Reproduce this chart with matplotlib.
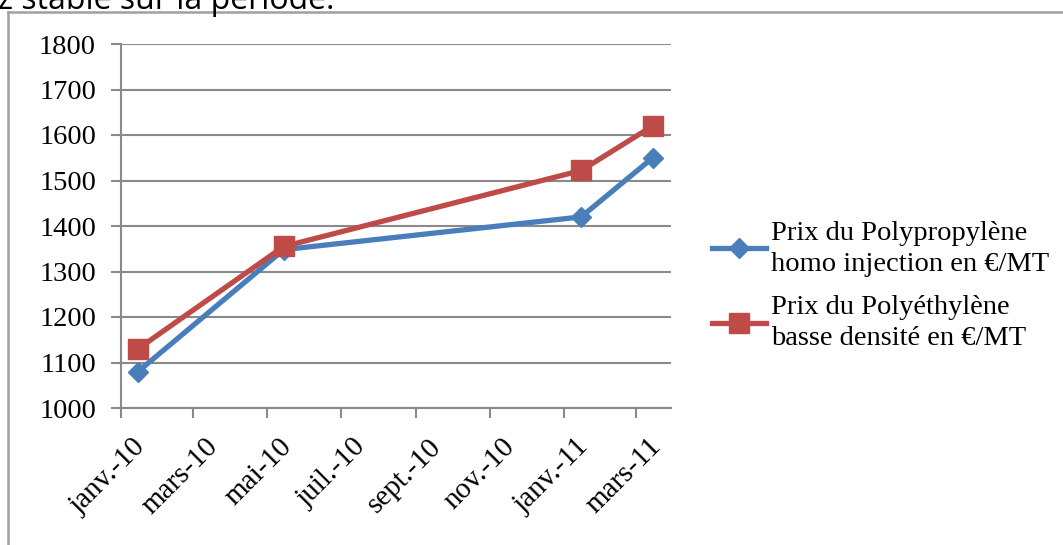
import datetime as dt
import matplotlib
matplotlib.use("Agg")
import matplotlib.pyplot as plt
import matplotlib.dates as mdates
import matplotlib.transforms as mtransforms
from matplotlib.lines import Line2D

# Prix relevés (en €/MT)
dates = [dt.date(2010, 1, 15), dt.date(2010, 5, 15), dt.date(2011, 1, 15), dt.date(2011, 3, 15)]
prix_pp = [1080, 1348, 1420, 1550]
prix_pe = [1130, 1355, 1522, 1620]

label_pp = "Prix du Polypropylène\nhomo injection en €/MT"
label_pe = "Prix du Polyéthylène\nbasse densité en €/MT"

tick_dates = [dt.date(2010, 1, 1), dt.date(2010, 3, 1), dt.date(2010, 5, 1), dt.date(2010, 7, 1),
              dt.date(2010, 9, 1), dt.date(2010, 11, 1), dt.date(2011, 1, 1), dt.date(2011, 3, 1)]
tick_labels = ["janv.-10", "mars-10", "mai-10", "juil.-10", "sept.-10", "nov.-10", "janv.-11", "mars-11"]
y_ticks = [1000, 1100, 1200, 1300, 1400, 1500, 1600, 1700, 1800]

W, H = 1063, 545
BLUE = "#4a7ebb"
RED = "#be4b48"
GRID = "#8a8a8a"
SERIF = ["Liberation Serif", "DejaVu Serif"]

fig = plt.figure(figsize=(W / 100, H / 100), dpi=100)
ax = fig.add_axes([121 / W, 1 - 408 / H, (671 - 121) / W, (408 - 44) / H])

ax.plot(dates, prix_pp, color=BLUE, lw=3.8, marker="D", ms=10.5, label=label_pp, zorder=3)
ax.plot(dates, prix_pe, color=RED, lw=3.8, marker="s", ms=14.5, label=label_pe, zorder=4)

ax.set_xlim(dt.date(2010, 1, 1), dt.date(2011, 3, 30))
ax.set_ylim(1000, 1800)
ax.set_yticks(y_ticks)
ax.set_yticklabels([str(v) for v in y_ticks], fontsize=20.5, family=SERIF)
ax.set_xticks([mdates.date2num(d) for d in tick_dates])
ax.set_xticklabels(tick_labels, fontsize=21, family=SERIF, rotation=45,
                   ha="right", va="center", rotation_mode="anchor")
ax.tick_params(axis="x", length=7, width=1.5, color=GRID, pad=18)
ax.tick_params(axis="y", length=7, width=1.5, color=GRID, pad=11)

# décale les dates vers la droite, sous leur graduation
shift = mtransforms.ScaledTranslation(0.21, 0, fig.dpi_scale_trans)
for lbl in ax.get_xticklabels():
    lbl.set_transform(lbl.get_transform() + shift)

ax.grid(axis="y", color=GRID, lw=1.5)
ax.set_axisbelow(True)
for side in ["top", "right"]:
    ax.spines[side].set_visible(False)
for side in ["left", "bottom"]:
    ax.spines[side].set_color(GRID)
    ax.spines[side].set_linewidth(1.5)

leg = fig.legend(loc="center left", bbox_to_anchor=(686 / W, 1 - 286 / H), frameon=False,
                 prop={"family": SERIF, "size": 20.5}, handlelength=1.9, handletextpad=0.18,
                 labelspacing=0.62)
for txt in leg.get_texts():
    txt.set_linespacing(1.35)

# cadre du graphique
fig.add_artist(Line2D([8 / W, 1.0], [1 - 12 / H, 1 - 12 / H], color="#a0a0a0", lw=1.8,
                      transform=fig.transFigure))
fig.add_artist(Line2D([8 / W, 8 / W], [1 - 12 / H, 0.0], color="#a0a0a0", lw=1.8,
                      transform=fig.transFigure))

# fin de la phrase au-dessus du graphique
fig.text(-2 / W, 1 - 9 / H, "z stable sur la période.", fontsize=23, family="Open Sans",
         va="baseline", ha="left")

fig.savefig("out.png", dpi=100)
